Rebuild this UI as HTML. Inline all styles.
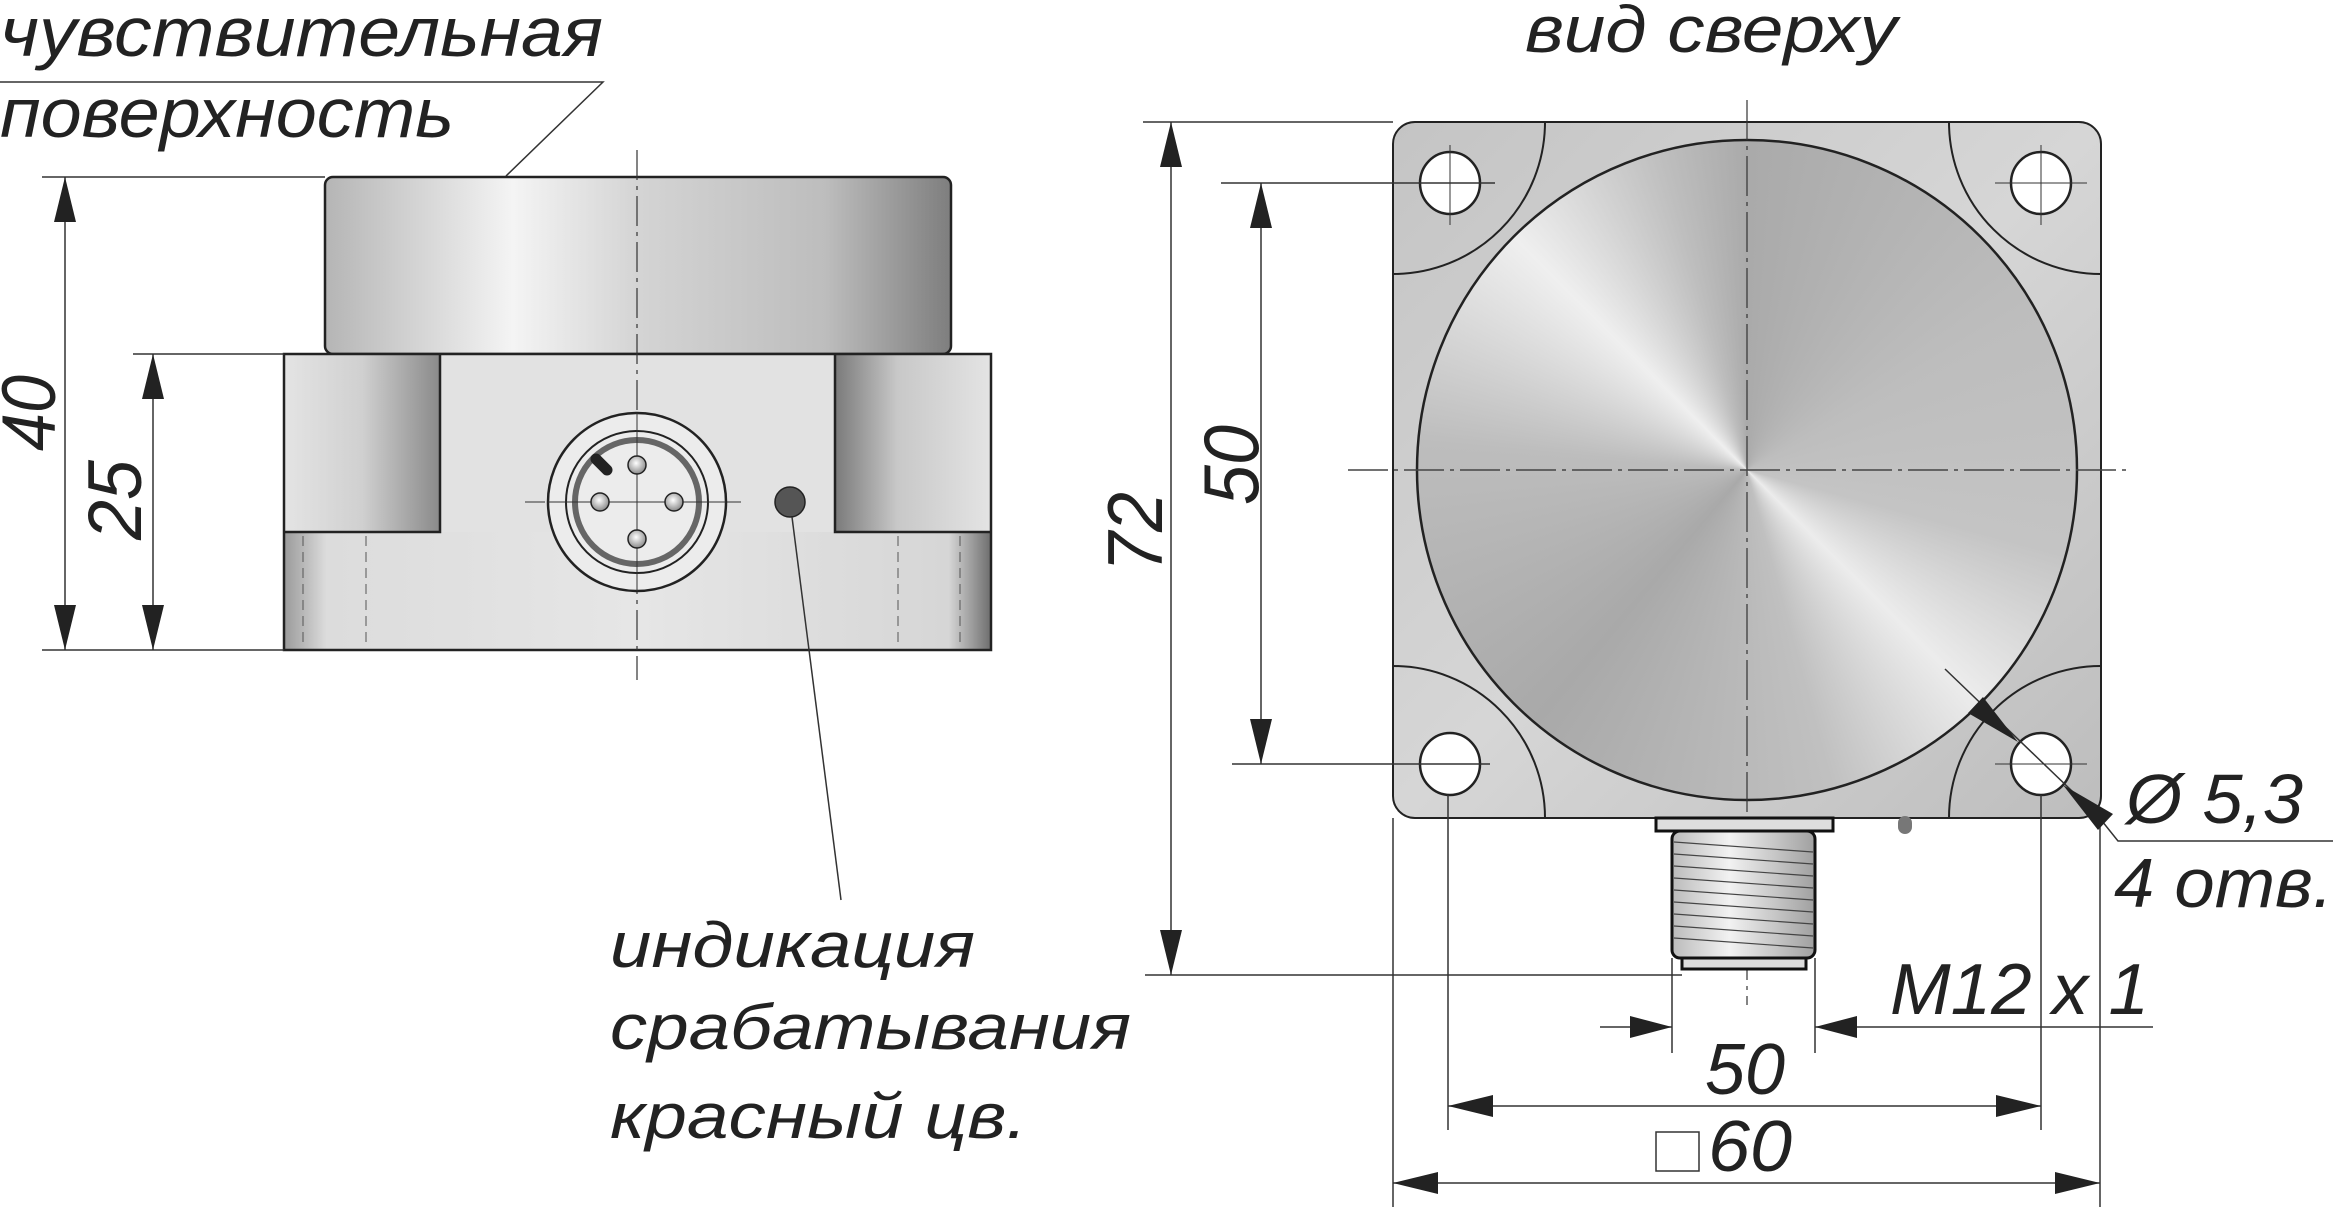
<!DOCTYPE html>
<html><head><meta charset="utf-8"><style>
html,body{margin:0;padding:0;background:#fff;}
#w{position:relative;width:2333px;height:1215px;overflow:hidden;background:#fff;}
svg{position:absolute;left:0;top:0;}
#disc{position:absolute;left:1417px;top:140px;width:660px;height:660px;border-radius:50%;
background:conic-gradient(#aaa 0deg,#bdbdbd 60deg,#c4c4c4 105deg,#ececec 135deg,#c0c0c0 165deg,#a9a9a9 220deg,#bdbdbd 275deg,#efefef 315deg,#bebebe 345deg,#aaa 360deg);}
text{font-family:"Liberation Sans",sans-serif;font-style:italic;fill:#222;}
</style></head><body><div id="w">
<svg width="2333" height="1215">
<defs>
<linearGradient id="pl" x1="0" y1="0" x2="1" y2="1"><stop offset="0" stop-color="#c4c4c4"/><stop offset=".5" stop-color="#d6d6d6"/><stop offset="1" stop-color="#bdbdbd"/></linearGradient>
</defs>
<rect x="1393" y="122" width="708" height="696" rx="22" fill="url(#pl)" stroke="#222" stroke-width="2"/>
</svg>
<div id="disc"></div>
<svg width="2333" height="1215">
<defs>
<linearGradient id="cyl" x1="0" x2="1"><stop offset="0" stop-color="#b5b5b5"/><stop offset=".3" stop-color="#f4f4f4"/><stop offset=".5" stop-color="#d4d4d4"/><stop offset=".8" stop-color="#bdbdbd"/><stop offset="1" stop-color="#7e7e7e"/></linearGradient>
<linearGradient id="nl" x1="0" x2="1"><stop offset="0" stop-color="#e4e4e4"/><stop offset=".5" stop-color="#d0d0d0"/><stop offset="1" stop-color="#8a8a8a"/></linearGradient>
<linearGradient id="nr" x1="0" x2="1"><stop offset="0" stop-color="#7a7a7a"/><stop offset=".4" stop-color="#c8c8c8"/><stop offset="1" stop-color="#e4e4e4"/></linearGradient>
<linearGradient id="low" x1="0" x2="1"><stop offset="0" stop-color="#9a9a9a"/><stop offset=".06" stop-color="#dcdcdc"/><stop offset=".5" stop-color="#e6e6e6"/><stop offset=".94" stop-color="#d6d6d6"/><stop offset="1" stop-color="#6e6e6e"/></linearGradient>
<linearGradient id="thr" x1="0" x2="1"><stop offset="0" stop-color="#bbb"/><stop offset=".4" stop-color="#f2f2f2"/><stop offset="1" stop-color="#a0a0a0"/></linearGradient>
<radialGradient id="pin" cx=".45" cy=".4" r=".6"><stop offset="0" stop-color="#fff"/><stop offset="1" stop-color="#8a8a8a"/></radialGradient>
</defs>

<text x="0" y="56" font-size="70" textLength="603" lengthAdjust="spacingAndGlyphs">чувствительная</text>
<text x="0" y="137" font-size="70" textLength="454" lengthAdjust="spacingAndGlyphs">поверхность</text>
<polyline points="0,82 603,82 506,176" fill="none" stroke="#333" stroke-width="1.5"/>

<rect x="325" y="177" width="626" height="177" rx="8" fill="url(#cyl)" stroke="#222" stroke-width="2.5"/>
<rect x="284" y="354" width="707" height="296" fill="#e2e2e2"/>
<rect x="284" y="354" width="156" height="178" fill="url(#nl)"/>
<rect x="835" y="354" width="156" height="178" fill="url(#nr)"/>
<rect x="284" y="532" width="707" height="118" fill="url(#low)"/>
<path d="M284,532 H440 V354 M835,354 V532 H991" fill="none" stroke="#222" stroke-width="2.5"/>
<rect x="284" y="354" width="707" height="296" fill="none" stroke="#222" stroke-width="2.5"/>
<g stroke="#555" stroke-width="1" stroke-dasharray="10,6">
<line x1="303" y1="536" x2="303" y2="648"/><line x1="366" y1="536" x2="366" y2="648"/>
<line x1="898" y1="536" x2="898" y2="648"/><line x1="960" y1="536" x2="960" y2="648"/>
</g>
<line x1="637" y1="150" x2="637" y2="680" stroke="#333" stroke-width="1.2" stroke-dasharray="30,6,4,6"/>
<line x1="525" y1="502" x2="745" y2="502" stroke="#555" stroke-width="1.2" stroke-dasharray="20,8"/>
<circle cx="637" cy="502" r="89" fill="#ececec" stroke="#222" stroke-width="2.5"/>
<circle cx="637" cy="502" r="71" fill="#ececec" stroke="#222" stroke-width="2"/>
<circle cx="637" cy="502" r="62" fill="none" stroke="#666" stroke-width="6"/>
<line x1="637" y1="413" x2="637" y2="591" stroke="#333" stroke-width="1"/>
<line x1="548" y1="502" x2="726" y2="502" stroke="#333" stroke-width="1"/>
<line x1="596" y1="459" x2="607" y2="470" stroke="#222" stroke-width="11" stroke-linecap="round"/>
<g fill="url(#pin)" stroke="#222" stroke-width="1.5">
<circle cx="637" cy="465" r="9"/><circle cx="637" cy="539" r="9"/><circle cx="600" cy="502" r="9"/><circle cx="674" cy="502" r="9"/>
</g>
<circle cx="790" cy="502" r="15" fill="#555" stroke="#222" stroke-width="1.5"/>
<line x1="792" y1="517" x2="841" y2="900" stroke="#333" stroke-width="1.5"/>

<g stroke="#333" stroke-width="1.5">
<line x1="42" y1="177" x2="325" y2="177"/>
<line x1="42" y1="650" x2="284" y2="650"/>
<line x1="133" y1="354" x2="284" y2="354"/>
<line x1="65" y1="177" x2="65" y2="650"/>
<line x1="153" y1="354" x2="153" y2="650"/>
</g>
<g fill="#222">
<polygon points="65,177 54,222 76,222"/><polygon points="65,650 54,605 76,605"/>
<polygon points="153,354 142,399 164,399"/><polygon points="153,650 142,605 164,605"/>
</g>
<text font-size="76" transform="translate(55,413) rotate(-90)" text-anchor="middle" textLength="76" lengthAdjust="spacingAndGlyphs">40</text>
<text font-size="76" transform="translate(141,500) rotate(-90)" text-anchor="middle" textLength="80" lengthAdjust="spacingAndGlyphs">25</text>

<text x="610" y="967" font-size="64" textLength="365" lengthAdjust="spacingAndGlyphs">индикация</text>
<text x="610" y="1049" font-size="64" textLength="521" lengthAdjust="spacingAndGlyphs">срабатывания</text>
<text x="610" y="1138" font-size="64" textLength="417" lengthAdjust="spacingAndGlyphs">красный цв.</text>

<text x="1525" y="52" font-size="66" textLength="372" lengthAdjust="spacingAndGlyphs">вид сверху</text>
<circle cx="1747" cy="470" r="330" fill="none" stroke="#222" stroke-width="2.5"/>
<g fill="none" stroke="#222" stroke-width="2">
<path d="M1545,122 A152,152 0 0 1 1393,274"/>
<path d="M1949,122 A152,152 0 0 0 2101,274"/>
<path d="M1545,818 A152,152 0 0 0 1393,666"/>
<path d="M1949,818 A152,152 0 0 1 2101,666"/>
</g>
<g fill="#fff" stroke="#222" stroke-width="2.5">
<ellipse cx="1450" cy="183" rx="30" ry="31"/><ellipse cx="2041" cy="183" rx="30" ry="31"/>
<ellipse cx="1450" cy="764" rx="30" ry="31"/><ellipse cx="2041" cy="764" rx="30" ry="31"/>
</g>
<line x1="1747" y1="100" x2="1747" y2="1005" stroke="#333" stroke-width="1.2" stroke-dasharray="40,6,4,6"/>
<line x1="1348" y1="470" x2="2128" y2="470" stroke="#444" stroke-width="1.5" stroke-dasharray="40,6,4,6"/>
<g stroke="#333" stroke-width="1">
<line x1="1450" y1="145" x2="1450" y2="225"/><line x1="2041" y1="145" x2="2041" y2="225"/>
<line x1="1995" y1="183" x2="2087" y2="183"/>
<line x1="1995" y1="764" x2="2087" y2="764"/>
</g>
<rect x="1898" y="816" width="14" height="18" rx="7" fill="#777"/>
<rect x="1656" y="818" width="177" height="13" fill="#ddd" stroke="#111" stroke-width="3"/>
<rect x="1672" y="831" width="143" height="127" rx="8" fill="url(#thr)" stroke="#111" stroke-width="3"/>
<g stroke="#444" stroke-width="1.2">
<line x1="1674" y1="842" x2="1813" y2="852"/><line x1="1674" y1="854" x2="1813" y2="864"/>
<line x1="1674" y1="866" x2="1813" y2="876"/><line x1="1674" y1="878" x2="1813" y2="888"/>
<line x1="1674" y1="890" x2="1813" y2="900"/><line x1="1674" y1="902" x2="1813" y2="912"/>
<line x1="1674" y1="914" x2="1813" y2="924"/><line x1="1674" y1="926" x2="1813" y2="936"/>
<line x1="1674" y1="938" x2="1813" y2="948"/>
</g>
<rect x="1682" y="958" width="124" height="11" fill="#ddd" stroke="#111" stroke-width="3"/>

<g stroke="#333" stroke-width="1.5">
<line x1="1143" y1="122" x2="1393" y2="122"/>
<line x1="1145" y1="975" x2="1682" y2="975"/>
<line x1="1171" y1="122" x2="1171" y2="975"/>
<line x1="1221" y1="183" x2="1495" y2="183"/>
<line x1="1232" y1="764" x2="1490" y2="764"/>
<line x1="1261" y1="183" x2="1261" y2="764"/>
<line x1="1393" y1="818" x2="1393" y2="1207"/>
<line x1="2100" y1="818" x2="2100" y2="1207"/>
<line x1="1448" y1="795" x2="1448" y2="1130"/>
<line x1="2041" y1="795" x2="2041" y2="1130"/>
<line x1="1448" y1="1106" x2="2041" y2="1106"/>
<line x1="1393" y1="1183" x2="2100" y2="1183"/>
<line x1="1672" y1="958" x2="1672" y2="1053"/>
<line x1="1815" y1="958" x2="1815" y2="1053"/>
<line x1="1600" y1="1027" x2="1672" y2="1027"/>
<line x1="1815" y1="1027" x2="2153" y2="1027"/>
<polyline points="1945,669 2098,816 2118,841 2333,841" fill="none"/>
</g>
<g fill="#222">
<polygon points="1171,122 1160,167 1182,167"/><polygon points="1171,975 1160,930 1182,930"/>
<polygon points="1261,183 1250,228 1272,228"/><polygon points="1261,764 1250,719 1272,719"/>
<polygon points="1448,1106 1493,1095 1493,1117"/><polygon points="2041,1106 1996,1095 1996,1117"/>
<polygon points="1393,1183 1438,1172 1438,1194"/><polygon points="2100,1183 2055,1172 2055,1194"/>
<polygon points="1672,1027 1630,1016 1630,1038"/><polygon points="1815,1027 1857,1016 1857,1038"/>
<polygon points="2018,742 1983,697 1968,713"/>
<polygon points="2063,785 2098,830 2113,814"/>
</g>
<text font-size="78" transform="translate(1162,532) rotate(-90)" text-anchor="middle" textLength="80" lengthAdjust="spacingAndGlyphs">72</text>
<text font-size="78" transform="translate(1258,465) rotate(-90)" text-anchor="middle" textLength="80" lengthAdjust="spacingAndGlyphs">50</text>
<text x="1745" y="1094" font-size="72" text-anchor="middle" textLength="80" lengthAdjust="spacingAndGlyphs">50</text>
<rect x="1656" y="1132" width="43" height="39" fill="#fff" stroke="#333" stroke-width="1.5"/>
<text x="1708" y="1171" font-size="72" textLength="84" lengthAdjust="spacingAndGlyphs">60</text>
<text x="1890" y="1014" font-size="72" textLength="259" lengthAdjust="spacingAndGlyphs">M12 x 1</text>
<text x="2126" y="823" font-size="70" textLength="177" lengthAdjust="spacingAndGlyphs">Ø 5,3</text>
<text x="2114" y="907" font-size="70" textLength="219" lengthAdjust="spacingAndGlyphs">4 отв.</text>
</svg>
</div></body></html>
